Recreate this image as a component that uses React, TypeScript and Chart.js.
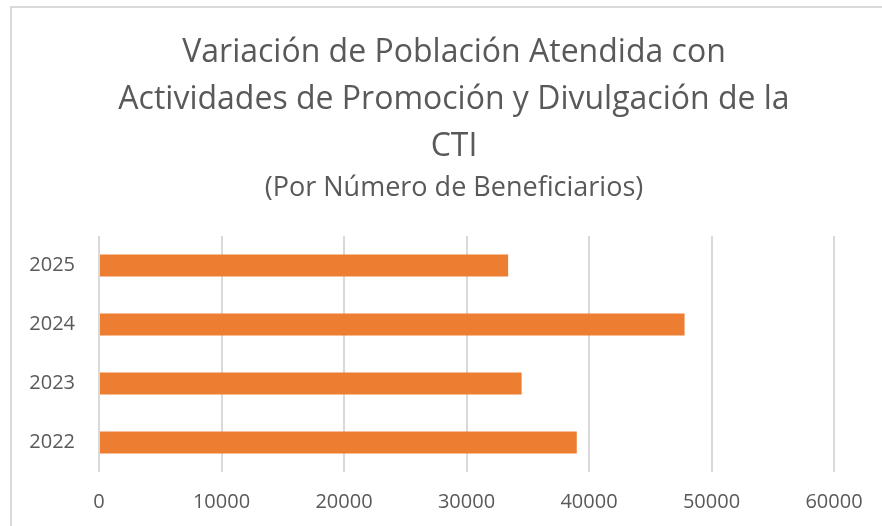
import React, { useEffect, useRef } from "react";
import { Chart, registerables } from "chart.js";

Chart.register(...registerables);

const titleLines = [
  "Variación de Población Atendida con",
  "Actividades de Promoción y Divulgación de la",
  "CTI",
];
const subtitleText = "(Por Número de Beneficiarios)";
const years = ["2022", "2023", "2024", "2025"];
const beneficiarios = [39000, 34500, 47800, 33400];
const xMin = 0;
const xMax = 60000;
const xStep = 10000;

const FONT = "'Open Sans', Lato, sans-serif";
const TEXT = "#595959";
const GRID = "#d9d9d9";
const BAR = "#ED7D31";

export default function App() {
  const ref = useRef<HTMLCanvasElement | null>(null);

  useEffect(() => {
    if (!ref.current) return;
    const chart = new Chart(ref.current, {
      type: "bar",
      data: {
        labels: years,
        datasets: [
          {
            label: "Beneficiarios",
            data: beneficiarios,
            backgroundColor: BAR,
            borderWidth: 0,
            barPercentage: 0.37,
            categoryPercentage: 1,
            yAxisID: "y",
          },
        ],
      },
      options: {
        indexAxis: "y",
        animation: false,
        responsive: false,
        layout: { padding: { left: 0, right: 0, top: 0, bottom: 30 } },
        plugins: {
          legend: { display: false },
          tooltip: { enabled: false },
          title: {
            display: true,
            text: titleLines,
            color: TEXT,
            font: { family: FONT, size: 32, weight: "normal", lineHeight: "47px" },
            padding: { top: 21, bottom: 0 },
          },
          subtitle: {
            display: true,
            text: subtitleText,
            color: TEXT,
            font: { family: FONT, size: 27, weight: "normal", lineHeight: "28px" },
            padding: { top: 4, bottom: 34 },
          },
        },
        scales: {
          x: {
            min: xMin,
            max: xMax,
            ticks: {
              stepSize: xStep,
              color: TEXT,
              font: { family: FONT, size: 20 },
              padding: 18,
              callback: (v: any) => String(v),
            },
            grid: { color: GRID, lineWidth: 2, drawTicks: false },
            border: { display: false },
          },
          y: {
            position: "left",
            reverse: true,
            ticks: {
              color: TEXT,
              font: { family: FONT, size: 20 },
              padding: 24,
            },
            grid: { display: false, drawTicks: false },
            border: { display: false },
            afterFit: (s: any) => {
              s.width = 87;
            },
          },
          spacer: {
            type: "linear",
            position: "right",
            axis: "y",
            display: true,
            ticks: { display: false },
            grid: { display: false, drawTicks: false },
            border: { display: false },
            afterFit: (s: any) => {
              s.width = 62;
            },
          },
        },
      },
    });
    return () => chart.destroy();
  }, []);

  return (
    <div
      style={{
        position: "absolute",
        left: 10,
        top: 6,
        width: 872,
        height: 520,
        overflow: "hidden",
        borderTop: `2px solid ${GRID}`,
        borderLeft: `2px solid ${GRID}`,
        boxSizing: "border-box",
        background: "#fff",
      }}
    >
      <canvas ref={ref} width={884} height={554} style={{ display: "block" }} />
    </div>
  );
}
